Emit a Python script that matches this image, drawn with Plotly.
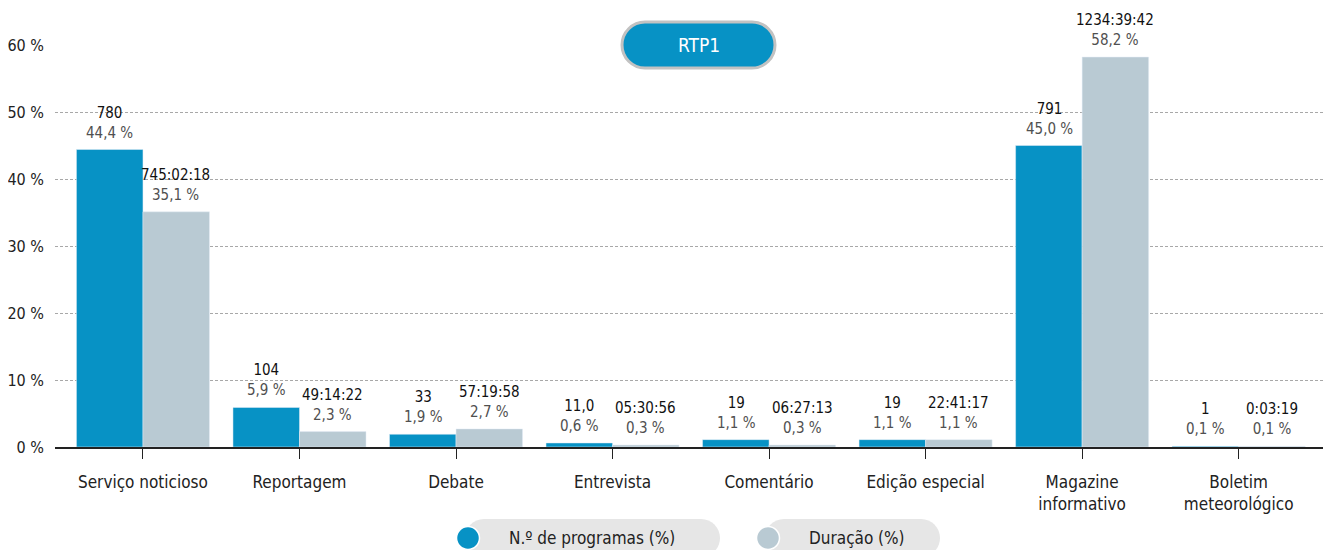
import plotly.graph_objects as go

# dados RTP1
categorias = ["Serviço noticioso", "Reportagem", "Debate", "Entrevista", "Comentário",
              "Edição especial", "Magazine<br>informativo", "Boletim<br>meteorológico"]
pct_programas = [44.4, 5.9, 1.9, 0.6, 1.1, 1.1, 45.0, 0.1]
pct_duracao = [35.1, 2.3, 2.7, 0.3, 0.3, 1.1, 58.2, 0.1]
num_programas = ["780", "104", "33", "11,0", "19", "19", "791", "1"]
duracao = ["745:02:18", "49:14:22", "57:19:58", "05:30:56", "06:27:13", "22:41:17",
           "1234:39:42", "0:03:19"]
y_ticks = [0, 10, 20, 30, 40, 50, 60]

AZUL = "#0792c5"
CINZA = "#b9cad3"
FONTE = "DejaVu Sans Condensed, Roboto, sans-serif"


def fmt(v):
    return f"{v:.1f}".replace(".", ",") + " %"


def pill(w, h):
    # caminho de uma "pílula" centrada na âncora, em pixels
    r = h / 2
    k = 0.5523 * r
    a = w / 2 - r
    return (f"M {-a},{-r} L {a},{-r} C {a + k},{-r} {w / 2},{-k} {w / 2},0 "
            f"C {w / 2},{k} {a + k},{r} {a},{r} L {-a},{r} "
            f"C {-a - k},{r} {-w / 2},{k} {-w / 2},0 C {-w / 2},{-k} {-a - k},{-r} {-a},{-r} Z")


fig = go.Figure()
fig.add_bar(x=categorias, y=pct_programas, name="N.º de programas (%)", marker_color=AZUL)
fig.add_bar(x=categorias, y=pct_duracao, name="Duração (%)", marker_color=CINZA)

# a página tem 8 px de margem no body: compensar
OFF = 8
W, H = 1331 - OFF, 550 - OFF
ML, MR, MT, MB = 55 - OFF, 0, 45 - OFF, 103
pw, ph = W - ML - MR, H - MT - MB


def px_x(x):
    return (x - OFF - ML) / pw


def px_y(y):
    return (H - MB - (y - OFF)) / ph


# rótulos por cima das barras
for i, c in enumerate(categorias):
    for vals, nums, dx in ((pct_programas, num_programas, -33), (pct_duracao, duracao, 33)):
        fig.add_annotation(
            x=c, y=vals[i], xref="x", yref="y", xshift=dx, yshift=6,
            yanchor="bottom", showarrow=False, align="center",
            text=f"{nums[i]}<br><span style='color:#505050'>{fmt(vals[i])}</span>",
            font=dict(family=FONTE, size=15, color="#111"),
        )

# título em pílula
fig.add_shape(type="path", xref="paper", yref="paper", xsizemode="pixel", ysizemode="pixel",
              xanchor=px_x(698.5), yanchor=px_y(45), path=pill(153, 46),
              fillcolor=AZUL, line=dict(color="#c2c2c2", width=3), layer="above")
fig.add_annotation(x=px_x(698.5), y=px_y(45), xref="paper", yref="paper", showarrow=False,
                   xanchor="center", yanchor="middle",
                   text="RTP1", font=dict(family=FONTE, size=19, color="white"))

# legenda
for cx_pill, w_pill, cx_dot, cx_txt, cor, nome in (
        (592.5, 255, 468, 592, AZUL, "N.º de programas (%)"),
        (852.5, 175, 768, 857, CINZA, "Duração (%)")):
    fig.add_shape(type="path", xref="paper", yref="paper", xsizemode="pixel", ysizemode="pixel",
                  xanchor=px_x(cx_pill), yanchor=px_y(538), path=pill(w_pill, 38),
                  fillcolor="#e6e6e6", line=dict(width=0), layer="above")
    fig.add_shape(type="circle", xref="paper", yref="paper", xsizemode="pixel", ysizemode="pixel",
                  xanchor=px_x(cx_dot), yanchor=px_y(538), x0=-11.5, x1=11.5, y0=-11.5, y1=11.5,
                  fillcolor=cor, line=dict(color="white", width=1.5), layer="above")
    fig.add_annotation(x=px_x(cx_txt), y=px_y(538), xref="paper", yref="paper", showarrow=False,
                       xanchor="center", yanchor="middle",
                       text=nome, font=dict(family=FONTE, size=17, color="#222"))

fig.update_layout(
    width=W, height=H,
    margin=dict(l=ML, r=MR, t=MT, b=MB, autoexpand=False),
    barmode="group", bargap=0.15, bargroupgap=0,
    plot_bgcolor="white", paper_bgcolor="white",
    showlegend=False,
    font=dict(family=FONTE, size=16, color="#222"),
)
fig.update_xaxes(
    range=[-0.562, 7.59], showgrid=False, showline=True, linecolor="#222", linewidth=1.5,
    ticks="outside", ticklen=10, tickcolor="#222", tickwidth=1.2,
    tickfont=dict(size=17, color="#222"), ticklabelstandoff=9,
)
fig.update_yaxes(
    range=[0, 60], tickvals=y_ticks, ticktext=[f"{v} %" for v in y_ticks],
    showgrid=True, gridcolor="#a8a8a8", griddash="3px,2px", gridwidth=1,
    zeroline=False, showline=False,
    tickfont=dict(size=16, color="#222"), ticklabelstandoff=10,
)

fig.write_html("out.html")
